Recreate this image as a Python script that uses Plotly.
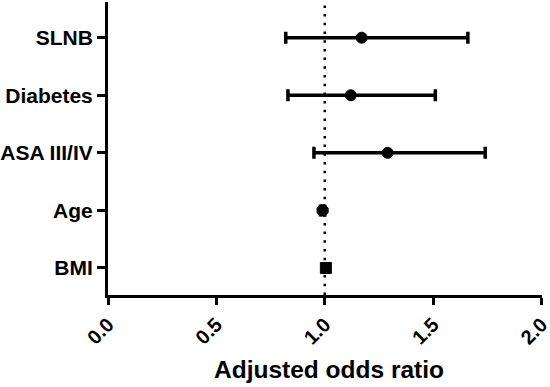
import plotly.graph_objects as go

# Data
categories = ["BMI", "Age", "ASA III/IV", "Diabetes", "SLNB"]
odds_ratio = [1.005, 0.99, 1.29, 1.12, 1.17]
ci_lower = [0.995, 0.98, 0.95, 0.83, 0.82]
ci_upper = [1.015, 1.0, 1.74, 1.51, 1.66]
x_tick_start = 0.0
x_tick_step = 0.5
x_title = "Adjusted odds ratio"

# styles
marker_symbols = ["square", "octagon", "circle", "circle", "circle"]
marker_sizes = [11, 12, 11, 11, 11]

ypos = list(range(len(categories)))
err_plus = [u - o for u, o in zip(ci_upper, odds_ratio)]
err_minus = [o - l for o, l in zip(odds_ratio, ci_lower)]

FONT = "Arial, Liberation Sans, sans-serif"

fig = go.Figure()
fig.add_trace(go.Scatter(
    x=odds_ratio, y=ypos, mode="markers",
    marker=dict(color="#000000", symbol=marker_symbols, size=marker_sizes,
                opacity=1, line=dict(width=1, color="#000000")),
    error_x=dict(type="data", symmetric=False, array=err_plus,
                 arrayminus=err_minus, color="black", thickness=3.5, width=6),
    showlegend=False, hoverinfo="skip",
))

fig.add_shape(type="line", xref="x", yref="paper", x0=1, x1=1, y0=0, y1=0.99,
              line=dict(color="black", width=2.5, dash="2.5px,6.2px"),
              layer="below")

fig.add_annotation(text="<b>" + x_title + "</b>", xref="paper", yref="paper",
                   x=0.51, y=0, yshift=-74, showarrow=False,
                   xanchor="center", yanchor="middle",
                   font=dict(family=FONT, size=24.5, color="black"))

fig.update_layout(
    width=550, height=387,
    margin=dict(l=108, r=8, t=2, b=92),
    paper_bgcolor="white", plot_bgcolor="white",
    font=dict(family=FONT, color="black"),
    xaxis=dict(
        range=[0, 2.002], tickmode="linear", tick0=x_tick_start,
        dtick=x_tick_step, tickformat=".1f",
        tickangle=-45, ticks="outside", ticklen=7, tickwidth=3,
        tickcolor="black", showline=True, linewidth=3, linecolor="black",
        showgrid=False, zeroline=False, automargin=False,
        ticklabeloverflow="allow",
        tickfont=dict(family=FONT, size=20, color="black", weight="bold"),
    ),
    yaxis=dict(
        range=[-0.47, 4.62], tickvals=ypos, ticktext=categories,
        ticks="outside", ticklen=8, tickwidth=3, tickcolor="black",
        showline=True, linewidth=3, linecolor="black",
        showgrid=False, zeroline=False, automargin=False,
        tickfont=dict(family=FONT, size=21, color="black", weight="bold"),
    ),
)

fig.write_html("out.html", config={"displayModeBar": False},
               post_script="document.body.style.margin='0';document.body.style.overflow='hidden';")
